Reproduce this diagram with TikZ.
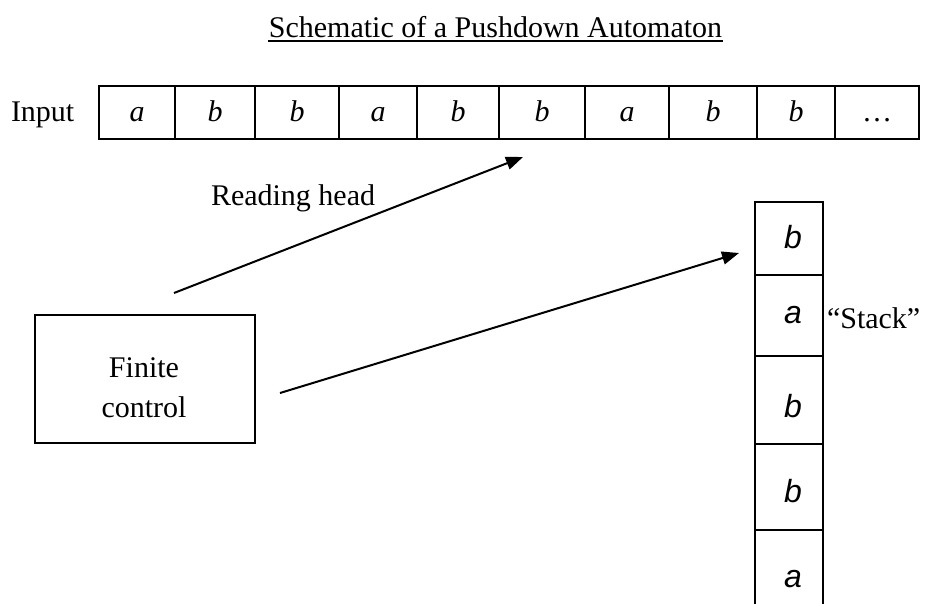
\documentclass[tikz,border=0pt]{standalone}
\usepackage{fontspec}
\setmainfont{Liberation Serif}
\newfontfamily\stackfont{Liberation Sans}
\usetikzlibrary{arrows.meta}
\begin{document}
\begin{tikzpicture}[x=1pt,y=-1pt,
  line width=2pt,
  cell/.style={draw, line width=2pt, inner sep=0pt, outer sep=0pt},
  sym/.style={anchor=base, font=\fontsize{30}{36}\selectfont\itshape, inner sep=0pt},
  ssym/.style={anchor=base, font=\stackfont\fontsize{32}{38}\selectfont\itshape, inner sep=0pt},
  lbl/.style={font=\fontsize{30}{36}\selectfont, inner sep=0pt},
  arr/.style={-{Triangle[length=17pt,width=13pt]}, line width=2pt}]
\useasboundingbox (0,0) rectangle (944,603);

% title
\node[lbl, anchor=base] (title) at (495.5,37) {Schematic of a Pushdown Automaton};
\draw[line width=1.8pt] ([yshift=-4pt]title.base west) -- ([yshift=-4pt]title.base east);

% input tape
\node[lbl, anchor=base west] (input) at (10,121) {Input};
\foreach \c/\w/\s [count=\i] in {137/76/a, 215/80/b, 297/84/b, 378/78/a, 458/82/b, 542/86/b, 627/84/a, 713/88/b, 796/78/b, 877/84/{\upshape\ldots}} {
  \node[cell, minimum width=\w pt, minimum height=53pt] (t\i) at (\c,112.5) {};
  \node[sym] (ts\i) at (\c,121) {\s};
}

% stack
\foreach \t/\b/\s [count=\i] in {202/275/b, 275/356/a, 356/444/b, 444/530/b} {
  \node[cell, minimum width=68pt, minimum height={(\b-\t)*1pt}] (s\i) at (789,{(\t+\b)/2}) {};
}
\node[ssym] (ss1) at (793,248) {b};
\node[ssym] (ss2) at (793,323) {a};
\node[ssym] (ss3) at (793,417) {b};
\node[ssym] (ss4) at (793,502) {b};
\node[ssym] (ss5) at (793,587) {a};
\coordinate (s5bl) at (755,606);
\coordinate (s5br) at (823,606);
\draw (s4.south west) -- (s5bl);
\draw (s4.south east) -- (s5br);
\node[lbl, anchor=base west] (stack) at (826,328) {``Stack''};

% finite control
\node[cell, minimum width=220pt, minimum height=128pt] (fc) at (145,379) {};
\node[lbl, anchor=base] (fin) at (144,377) {Finite};
\node[lbl, anchor=base] (ctl) at (144,417) {control};

% reading head
\node[lbl, anchor=base west] (rh) at (210,205) {Reading head};
\coordinate (h0) at (174,293);
\coordinate (h1) at (523,157);
\draw[arr] (h0) -- (h1);
\coordinate (p0) at (280,393);
\coordinate (p1) at (739,253);
\draw[arr] (p0) -- (p1);
\end{tikzpicture}
\end{document}
